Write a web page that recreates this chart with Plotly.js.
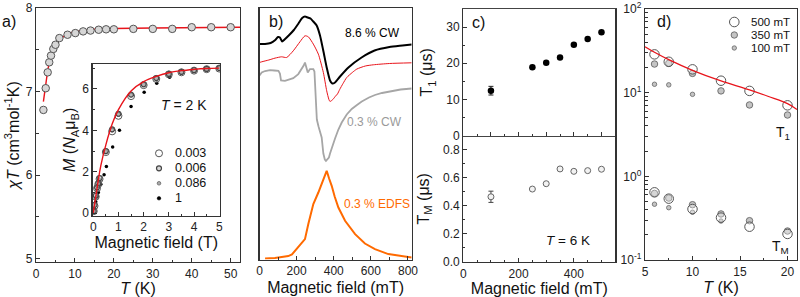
<!DOCTYPE html>
<html><head><meta charset="utf-8">
<script src="https://cdn.plot.ly/plotly-3.0.1.min.js"></script>
<style>html,body{margin:0;padding:0;background:#fff}#chart{width:800px;height:297px}</style>
</head><body><div id="chart"></div>
<script>
// ---------- Panel a: chi*T vs T ----------
const aT   = [1.9, 2.5, 3.0, 3.4, 3.85, 4.45, 5.0, 6.0, 8.1, 10.1, 12.1, 14, 16.1, 18, 20, 25, 30, 35, 40, 45, 50];
const aChiT= [6.78, 7.04, 7.23, 7.35, 7.43, 7.51, 7.56, 7.64, 7.68, 7.70, 7.72, 7.73, 7.74, 7.745, 7.745, 7.75, 7.75, 7.75, 7.77, 7.77, 7.77];
const aFitT   = [1.9, 2.2, 2.5, 3, 3.5, 4, 5, 6, 8, 10, 15, 20, 30, 40, 52.4];
const aFitChiT= [6.88, 7.0, 7.1, 7.25, 7.37, 7.45, 7.55, 7.62, 7.69, 7.72, 7.745, 7.755, 7.76, 7.765, 7.77];

// ---------- Inset: M vs H at 2 K ----------
const insH   = [0.02, 0.05, 0.1, 0.15, 0.2, 0.25, 0.5, 0.75, 1.0, 1.5, 2.0, 2.5, 3.0, 3.5, 4.0, 4.5, 5.0];
const insM003= [0.1, 0.35, 0.8, 1.2, 1.4, 1.65, 2.95, 3.95, 4.7, 5.65, 6.18, 6.48, 6.7, 6.8, 6.88, 6.95, 6.98];
const insM006= [0.1, 0.4, 0.85, 1.25, 1.45, 1.7, 3.0, 4.05, 4.8, 5.72, 6.22, 6.52, 6.72, 6.82, 6.9, 6.96, 7.0];
const insM086= [0.1, 0.35, 0.75, 1.1, 1.35, 1.6, 2.95, 4.0, 4.75, 5.7, 6.2, 6.5, 6.7, 6.8, 6.88, 6.95, 6.99];
const insH1  = [0.02, 0.05, 0.1, 0.15, 0.2, 0.3, 0.43, 0.52, 0.77, 1.04, 1.5, 2.02, 2.52, 3.03, 3.5, 4.0, 4.5, 5.0];
const insM1  = [0.05, 0.25, 0.55, 0.8, 1.0, 1.4, 1.85, 2.25, 3.2, 4.0, 5.15, 5.84, 6.27, 6.56, 6.75, 6.86, 6.95, 6.98];
const insFitH= [0, 0.1, 0.2, 0.3, 0.5, 0.75, 1, 1.5, 2, 2.5, 3, 3.5, 4, 4.5, 5];
const insFitM= [0, 0.8, 1.6, 2.3, 3.3, 4.3, 5.0, 5.9, 6.35, 6.6, 6.78, 6.88, 6.94, 6.98, 7.0];
const insLegend = ['0.003', '0.006', '0.086', '1'];

// ---------- Panel b: spectra (arbitrary units, stacked) ----------
const bBlackH = [0, 30, 60, 85, 100, 110, 122, 135, 160, 185, 210, 230, 245, 260, 275, 290, 308, 326, 344, 362, 380, 392, 407, 434, 479, 550, 620, 700, 770, 820];
const bBlack  = [215.5, 215.5, 216.5, 219.5, 222.5, 222, 218, 220, 224.5, 229.5, 236, 241.5, 243, 242, 241, 238, 234, 224, 208.5, 192, 179, 176, 177, 183, 192, 202, 209, 212.5, 214, 215];
const bRedH = [0, 12, 50, 84, 119, 146, 182, 218, 245, 263, 290, 317, 344, 362, 374, 380, 395, 410, 420, 432, 450, 470, 500, 524, 570, 613, 700, 820];
const bRed  = [197, 197.7, 199.5, 201.4, 202.7, 202, 208.7, 217.7, 223.7, 222.7, 215.4, 205.4, 187, 168.7, 160, 158, 160, 163.5, 165.5, 170, 176, 182, 187, 190.4, 193.5, 194.7, 196, 196.7];
const bGreyH = [0, 12, 30, 57, 80, 102, 110, 116, 137, 155, 182, 209, 227, 238, 245, 252, 260, 272, 290, 296, 300, 304, 309, 318, 327, 335, 344, 352, 358, 366, 374, 380, 395, 407, 425, 443, 470, 497, 525, 551, 590, 622, 660, 700, 760, 820];
const bGrey  = [184, 187, 188.5, 189.4, 189, 188.7, 186, 179, 178.7, 180, 181.4, 185.4, 190.4, 194, 197, 192, 187, 190.4, 190.4, 188, 170, 150, 140, 133, 128, 122, 106, 100, 98.7, 100, 102, 106, 115, 121, 130, 137, 145, 150.5, 154.5, 158, 162, 164.5, 166.5, 168, 170, 171];
const bOrH = [30, 83, 120, 155, 175, 191, 210, 227, 245, 263, 290, 317, 344, 362, 375, 389, 405, 425, 461, 515, 568, 622, 694, 766, 820];
const bOr  = [1, 1.4, 2.5, 3.4, 5, 8.7, 13, 17, 20.4, 35.4, 55.4, 67, 80.4, 88.7, 81, 73.7, 63, 52, 38.7, 25.4, 16, 10.4, 5.4, 3.7, 2];
const bLabels = ['8.6 % CW', '0.3 % CW', '0.3 % EDFS'];

// ---------- Panel c: T1 and TM vs field at 6 K ----------
const cH   = [100, 250, 300, 350, 400, 450, 500];
const cT1  = [12.4, 18.9, 20.1, 21.6, 25.1, 26.7, 28.6];
const cT1err = [1.2, 0, 0, 0, 0, 0, 0];
const cTM  = [0.464, 0.519, 0.557, 0.662, 0.645, 0.65, 0.66];
const cTMerr = [0.04, 0, 0, 0, 0, 0, 0];

// ---------- Panel d: T1, TM vs T (log) ----------
const dT = [6, 7.5, 10, 13, 16, 20];
const dT1_500 = [28.7, 23.4, 19.0, 13.9, 10.5, 7.06];
const dT1_350 = [22.0, 22.4, 17.0, 10.5, 7.13, 5.41];
const dT100 = [6, 7.5, 10];
const dT1_100 = [12.6, 12.4, 9.55];
const dTM_500 = [0.644, 0.541, 0.407, 0.321, 0.250, 0.205];
const dTM_350 = [0.625, 0.55, 0.458, 0.355, 0.295, 0.222];
const dT100m = [6, 7.5, 10, 13];
const dTM_100 = [0.464, 0.422, 0.372, 0.292];
const dFitT  = [5, 6, 7.5, 10, 13, 15, 16, 18, 20, 21];
const dFitT1 = [35.4, 30.4, 24.8, 18.5, 13.8, 11.7, 10.8, 9.0, 7.4, 6.3];
const dLegend = ['500 mT', '350 mT', '100 mT'];

// ---------- layout helpers ----------
const W = 800, H = 297;
const px = x => x / W;
const py = y => 1 - y / H;
const FONT = 'Liberation Sans, Arial, sans-serif';
const LC = '#333';
function ax(extra) {
  return Object.assign({
    showline: true, linecolor: LC, linewidth: 1.2, mirror: true,
    ticks: 'inside', ticklen: 4, tickwidth: 1, tickcolor: LC,
    showgrid: false, zeroline: false,
    tickfont: {size: 12, color: '#222', family: FONT}
  }, extra);
}
const TF = {size: 16, color: '#111', family: FONT};

const traces = [
  // panel a
  {x: aFitT, y: aFitChiT, xaxis: 'x', yaxis: 'y', mode: 'lines', line: {color: '#e8141b', width: 1.4}},
  {x: aT, y: aChiT, xaxis: 'x', yaxis: 'y', mode: 'markers',
   marker: {size: 7.5, color: '#d6d6d6', line: {color: '#555', width: 1}}},
  // inset
  {x: insH1, y: insM1, xaxis: 'x2', yaxis: 'y2', mode: 'markers', name: insLegend[3],
   marker: {size: 3.5, color: '#000'}},
  {x: insH, y: insM086, xaxis: 'x2', yaxis: 'y2', mode: 'markers', name: insLegend[2],
   marker: {size: 3.5, color: '#aaa', line: {color: '#666', width: 0.8}}},
  {x: insH, y: insM006, xaxis: 'x2', yaxis: 'y2', mode: 'markers', name: insLegend[1],
   marker: {size: 5, color: 'rgba(190,190,190,0.6)', line: {color: '#444', width: 1.2}}},
  {x: insH, y: insM003, xaxis: 'x2', yaxis: 'y2', mode: 'markers', name: insLegend[0],
   marker: {size: 7, color: 'rgba(0,0,0,0)', line: {color: '#555', width: 1}}},
  {x: insFitH, y: insFitM, xaxis: 'x2', yaxis: 'y2', mode: 'lines', line: {color: '#e8141b', width: 1.4, shape: 'spline'}},
  // panel b
  {x: bBlackH, y: bBlack, xaxis: 'x3', yaxis: 'y3', mode: 'lines', line: {color: '#000', width: 2, shape: 'spline', smoothing: 0.6}},
  {x: bRedH, y: bRed, xaxis: 'x3', yaxis: 'y3', mode: 'lines', line: {color: '#e8141b', width: 1, shape: 'spline', smoothing: 0.6}},
  {x: bGreyH, y: bGrey, xaxis: 'x3', yaxis: 'y3', mode: 'lines', line: {color: '#a6a6a6', width: 1.8}},
  {x: bOrH, y: bOr, xaxis: 'x3', yaxis: 'y3', mode: 'lines', line: {color: '#ff6a00', width: 2}},
  // panel c
  {x: cH, y: cT1, xaxis: 'x4', yaxis: 'y4', mode: 'markers',
   error_y: {type: 'data', array: cT1err, visible: true, color: '#222', thickness: 1, width: 2.5},
   marker: {size: 6.5, color: '#000'}},
  {x: cH, y: cTM, xaxis: 'x5', yaxis: 'y5', mode: 'markers',
   error_y: {type: 'data', array: cTMerr, visible: true, color: '#444', thickness: 1, width: 2.5},
   marker: {size: 6, color: '#f2f2f2', line: {color: '#666', width: 1}}},
  // panel d
  {x: dT100, y: dT1_100, xaxis: 'x6', yaxis: 'y6', mode: 'markers', name: dLegend[2],
   marker: {size: 4.5, color: '#c4c4c4', line: {color: '#666', width: 0.8}}},
  {x: dT100m, y: dTM_100, xaxis: 'x6', yaxis: 'y6', mode: 'markers', name: dLegend[2],
   marker: {size: 4.5, color: '#c4c4c4', line: {color: '#666', width: 0.8}}},
  {x: dT, y: dT1_350, xaxis: 'x6', yaxis: 'y6', mode: 'markers', name: dLegend[1],
   marker: {size: 6.5, color: '#c4c4c4', line: {color: '#666', width: 0.9}}},
  {x: dT, y: dTM_350, xaxis: 'x6', yaxis: 'y6', mode: 'markers', name: dLegend[1],
   marker: {size: 6.5, color: '#c4c4c4', line: {color: '#666', width: 0.9}}},
  {x: dT, y: dT1_500, xaxis: 'x6', yaxis: 'y6', mode: 'markers', name: dLegend[0],
   marker: {size: 9.5, color: 'rgba(255,255,255,0.3)', line: {color: '#555', width: 1}}},
  {x: dT, y: dTM_500, xaxis: 'x6', yaxis: 'y6', mode: 'markers', name: dLegend[0],
   marker: {size: 9.5, color: 'rgba(255,255,255,0.3)', line: {color: '#555', width: 1}}},
  {x: dFitT, y: dFitT1, xaxis: 'x6', yaxis: 'y6', mode: 'lines', line: {color: '#e8141b', width: 1.3, shape: 'spline'}}
];

function ann(text, x, y, size, color, xanchor, extra) {
  return Object.assign({text, xref: 'paper', yref: 'paper', x: px(x), y: py(y), showarrow: false,
    xanchor: xanchor || 'center', yanchor: 'middle', borderpad: 0,
    font: {size, color: color || '#111', family: FONT}}, extra || {});
}
function circ(cx, cy, r, fill, lc, lw) {
  return {type: 'circle', xref: 'paper', yref: 'paper', xsizemode: 'pixel', ysizemode: 'pixel',
    xanchor: px(cx), yanchor: py(cy), x0: -r, x1: r, y0: -r, y1: r,
    fillcolor: fill, line: {color: lc, width: lw}};
}

const layout = {
  width: W, height: H, margin: {l: 0, r: 0, t: 0, b: 0},
  paper_bgcolor: '#fff', plot_bgcolor: 'rgba(0,0,0,0)', showlegend: false,
  font: {family: FONT, color: '#111'},
  // panel a
  xaxis: ax({domain: [px(36), px(240)], range: [0, 52.4], anchor: 'y', dtick: 10, tick0: 0,
    minor: {dtick: 5, ticks: 'inside', ticklen: 2.5, tickcolor: LC},
    title: {text: '<i>T</i> (K)', font: TF, standoff: 3}}),
  yaxis: ax({domain: [py(262), py(8)], range: [4.96, 8], anchor: 'x', dtick: 1, tick0: 5,
    minor: {dtick: 0.5, ticks: 'inside', ticklen: 2.5, tickcolor: LC},
    title: {text: '<i>χT</i> (cm<sup>3</sup>mol<sup>-1</sup>K)', font: TF, standoff: 2}}),
  // inset
  xaxis2: ax({domain: [px(92.5), px(220)], range: [-0.03, 5.03], anchor: 'y2', dtick: 1, tick0: 0,
    minor: {dtick: 0.5, ticks: 'inside', ticklen: 2, tickcolor: LC},
    title: {text: 'Magnetic field (T)', font: TF, standoff: 1}}),
  yaxis2: ax({domain: [py(215.7), py(64)], range: [-0.12, 7.2], anchor: 'x2', dtick: 2, tick0: 0,
    minor: {dtick: 1, ticks: 'inside', ticklen: 2, tickcolor: LC},
    title: {text: '<i>M</i> (<i>N</i><sub>A</sub>μ<sub>B</sub>)', font: TF, standoff: 2}}),
  // panel b
  xaxis3: ax({domain: [px(259.5), px(411.7)], range: [0, 820], anchor: 'y3', dtick: 200, tick0: 0,
    minor: {dtick: 100, ticks: 'inside', ticklen: 2.5, tickcolor: LC},
    title: {text: 'Magnetic field (mT)', font: TF, standoff: 4}}),
  yaxis3: ax({domain: [py(259.5), py(8)], range: [0, 251.5], anchor: 'x3', ticks: '', showticklabels: false}),
  // panel c top (its x-axis line is the divider; mirror draws the top frame)
  xaxis4: ax({domain: [px(463.3), px(615.3)], range: [0, 550], anchor: 'y4', showticklabels: false,
    linewidth: 1.5, linecolor: '#444', dtick: 100, tick0: 0,
    minor: {dtick: 50, ticks: 'inside', ticklen: 2, tickcolor: LC}}),
  yaxis4: ax({domain: [py(135.5), py(9)], range: [0, 35], anchor: 'x4', dtick: 10, tick0: 0,
    minor: {dtick: 5, ticks: 'inside', ticklen: 2, tickcolor: LC},
    title: {text: 'T<sub>1</sub> (μs)', font: TF, standoff: 9}}),
  // panel c bottom
  xaxis5: ax({domain: [px(463.3), px(615.3)], range: [0, 550], anchor: 'y5', mirror: false,
    dtick: 200, tick0: 0,
    minor: {dtick: 50, ticks: 'inside', ticklen: 2, tickcolor: LC},
    title: {text: 'Magnetic field (mT)', font: TF, standoff: 5}}),
  yaxis5: ax({domain: [py(262), py(135.5)], range: [0, 0.9], anchor: 'x5', dtick: 0.2, tick0: 0,
    tickformat: '.1f', minor: {dtick: 0.1, ticks: 'inside', ticklen: 2, tickcolor: LC},
    title: {text: 'T<sub>M</sub> (μs)', font: TF, standoff: 9}}),
  // panel d
  xaxis6: ax({domain: [px(645), px(797)], range: [5, 21], anchor: 'y6', dtick: 5, tick0: 5,
    minor: {dtick: 2.5, ticks: 'inside', ticklen: 2, tickcolor: LC},
    title: {text: '<i>T</i> (K)', font: TF, standoff: 3}}),
  yaxis6: ax({domain: [py(260), py(9)], type: 'log', range: [-1, 2], anchor: 'x6',
    tickvals: [0.1, 1, 10, 100], ticktext: ['10<sup>-1</sup>', '10<sup>0</sup>', '10<sup>1</sup>', '10<sup>2</sup>'],
    minor: {tickmode: 'array', tickvals: [0.2,0.3,0.4,0.5,0.6,0.7,0.8,0.9,2,3,4,5,6,7,8,9,20,30,40,50,60,70,80,90],
      ticks: 'inside', ticklen: 2.5, tickcolor: LC}}),
  annotations: [
    ann('a)', 9, 21, 16),
    ann('b)', 276, 21, 16),
    ann('c)', 478, 22, 16),
    ann('d)', 664, 21, 16),
    ann('<i>T</i> = 2 K', 184, 105, 14),
    ann(insLegend[0], 174, 153.3, 12.5, '#111', 'left'),
    ann(insLegend[1], 174, 168.3, 12.5, '#111', 'left'),
    ann(insLegend[2], 174, 183.3, 12.5, '#111', 'left'),
    ann(insLegend[3], 174, 198.3, 12.5, '#111', 'left'),
    ann(bLabels[0], 372, 33, 12, '#000'),
    ann(bLabels[1], 374, 122, 12, '#9a9a9a'),
    ann(bLabels[2], 377, 204, 12, '#ff6a00'),
    ann('<i>T</i> = 6 K', 568, 240, 13.5),
    ann(dLegend[0], 750, 22, 11.5, '#111', 'left'),
    ann(dLegend[1], 750, 35, 11.5, '#111', 'left'),
    ann(dLegend[2], 750, 48, 11.5, '#111', 'left'),
    ann('T<sub>1</sub>', 783, 133, 14),
    ann('T<sub>M</sub>', 780, 247, 14)
  ],
  shapes: [
    circ(159, 153.3, 3.5, 'rgba(0,0,0,0)', '#555', 1),
    circ(159, 168.3, 2.5, 'rgba(190,190,190,0.6)', '#444', 1.2),
    circ(159, 183.3, 1.8, '#aaa', '#666', 0.8),
    circ(159, 198.3, 1.8, '#000', '#000', 0.5),
    circ(734.3, 22, 4.8, 'rgba(0,0,0,0)', '#555', 1),
    circ(734.3, 35, 3.2, '#c4c4c4', '#666', 0.9),
    circ(734.3, 48, 2.2, '#c4c4c4', '#666', 0.8)
  ]
};

Plotly.newPlot('chart', traces, layout, {staticPlot: true, displayModeBar: false});
</script></body></html>
